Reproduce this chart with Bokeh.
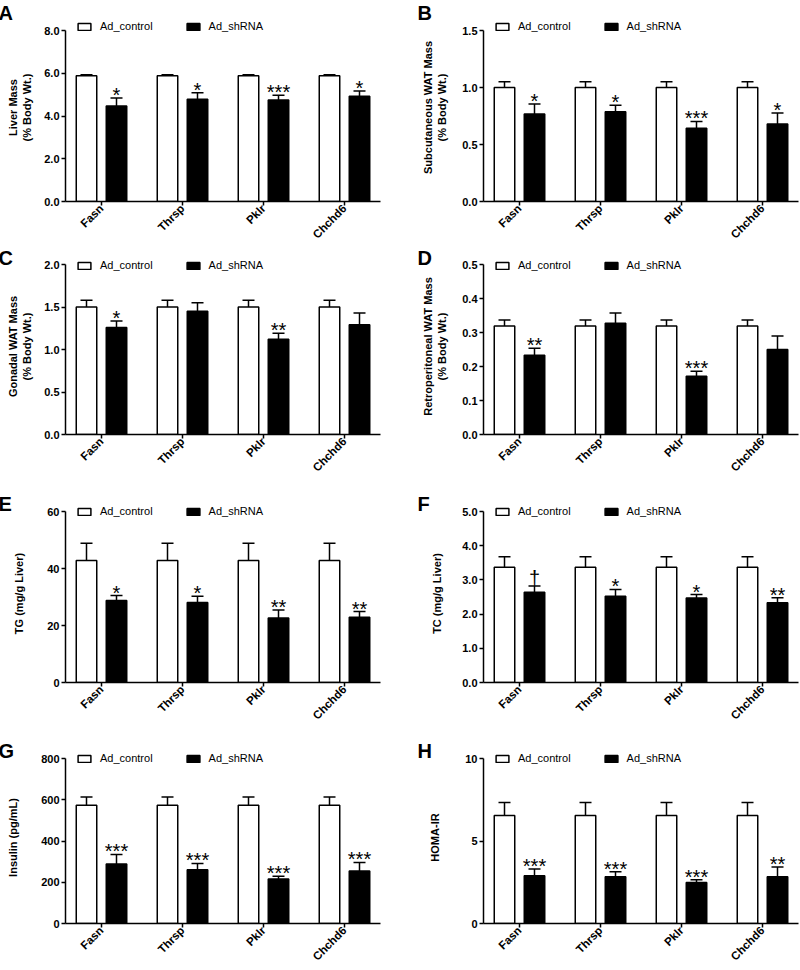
import math
from bokeh.plotting import figure
from bokeh.models import Range1d, FixedTicker, Legend, LegendItem, Title
from bokeh.layouts import gridplot
from bokeh.embed import file_html
from bokeh.resources import INLINE
from bokeh.core.properties import value

# ---------------- data ----------------
genes = ["Fasn", "Thrsp", "Pklr", "Chchd6"]
groups = ["Ad_control", "Ad_shRNA"]

# A: Liver mass (% body wt.)
liver_ctrl = [5.88, 5.88, 5.88, 5.88]
liver_ctrl_err = [0.05, 0.05, 0.05, 0.05]
liver_sh = [4.47, 4.78, 4.75, 4.92]
liver_sh_err = [0.37, 0.31, 0.22, 0.25]
liver_sig = ["*", "*", "***", "*"]
liver_ticks = [0, 2, 4, 6, 8]
liver_tick_labels = ["0.0", "2.0", "4.0", "6.0", "8.0"]

# B: Subcutaneous WAT mass
scwat_ctrl = [1.0, 1.0, 1.0, 1.0]
scwat_ctrl_err = [0.05, 0.05, 0.05, 0.05]
scwat_sh = [0.767, 0.788, 0.643, 0.679]
scwat_sh_err = [0.089, 0.056, 0.059, 0.097]
scwat_sig = ["*", "*", "***", "*"]
scwat_ticks = [0, 0.5, 1.0, 1.5]
scwat_tick_labels = ["0.0", "0.5", "1.0", "1.5"]

# C: Gonadal WAT mass
gwat_ctrl = [1.5, 1.5, 1.5, 1.5]
gwat_ctrl_err = [0.08, 0.08, 0.08, 0.08]
gwat_sh = [1.26, 1.45, 1.12, 1.29]
gwat_sh_err = [0.075, 0.1, 0.07, 0.14]
gwat_sig = ["*", "", "**", ""]
gwat_ticks = [0, 0.5, 1.0, 1.5, 2.0]
gwat_tick_labels = ["0.0", "0.5", "1.0", "1.5", "2.0"]

# D: Retroperitoneal WAT mass
rwat_ctrl = [0.319, 0.319, 0.319, 0.319]
rwat_ctrl_err = [0.018, 0.018, 0.018, 0.018]
rwat_sh = [0.233, 0.327, 0.171, 0.25]
rwat_sh_err = [0.021, 0.03, 0.015, 0.04]
rwat_sig = ["**", "", "***", ""]
rwat_ticks = [0, 0.1, 0.2, 0.3, 0.4, 0.5]
rwat_tick_labels = ["0.0", "0.1", "0.2", "0.3", "0.4", "0.5"]

# E: liver TG
tg_ctrl = [42.8, 42.8, 42.8, 42.8]
tg_ctrl_err = [6.1, 6.1, 6.1, 6.1]
tg_sh = [28.8, 28.1, 22.6, 22.9]
tg_sh_err = [1.7, 2.2, 2.8, 2.0]
tg_sig = ["*", "*", "**", "**"]
tg_ticks = [0, 20, 40, 60]
tg_tick_labels = ["0", "20", "40", "60"]

# F: liver TC
tc_ctrl = [3.37, 3.37, 3.37, 3.37]
tc_ctrl_err = [0.31, 0.31, 0.31, 0.31]
tc_sh = [2.64, 2.52, 2.47, 2.33]
tc_sh_err = [0.18, 0.2, 0.1, 0.15]
tc_sig = ["\u2020", "*", "*", "**"]
tc_ticks = [0, 1, 2, 3, 4, 5]
tc_tick_labels = ["0.0", "1.0", "2.0", "3.0", "4.0", "5.0"]

# G: insulin
ins_ctrl = [573, 573, 573, 573]
ins_ctrl_err = [40, 40, 40, 40]
ins_sh = [288, 261, 216, 254]
ins_sh_err = [47, 30, 13, 42]
ins_sig = ["***", "***", "***", "***"]
ins_ticks = [0, 200, 400, 600, 800]
ins_tick_labels = ["0", "200", "400", "600", "800"]

# H: HOMA-IR
homa_ctrl = [6.54, 6.54, 6.54, 6.54]
homa_ctrl_err = [0.79, 0.79, 0.79, 0.79]
homa_sh = [2.9, 2.84, 2.49, 2.84]
homa_sh_err = [0.41, 0.29, 0.16, 0.58]
homa_sig = ["***", "***", "***", "**"]
homa_ticks = [0, 5, 10]
homa_tick_labels = ["0", "5", "10"]

# ---------------- layout / style (pixels) ----------------
FONT = "Liberation Sans"
PX_PER_CAT = 81.0
COLS = [dict(width=400, left=65, right=20, title_offset=-67),
        dict(width=400, left=83, right=2, title_offset=-66)]
# fig start, frame top, frame bottom, y-axis top, legend box top
ROWS = [(0, 13, 201, 30, 19),
        (248, 258, 434, 264, 258),
        (481, 504, 682, 511, 504),
        (729, 751, 923, 758, 751)]
BOTTOM = 47


def panel(letter, ylabel, ctrl, ctrl_err, sh, sh_err, sig, ticks, tick_labels,
          col, row, label_standoff):
    c = COLS[col]
    fig_start, f_top, f_bot, a_top, leg_top = ROWS[row]
    fw = c["width"] - c["left"] - c["right"]
    fh = f_bot - f_top
    top_border = f_top - fig_start
    ymax = ticks[-1]
    y_per_px = ymax / (f_bot - a_top)
    x0 = -36.0 / PX_PER_CAT
    x1 = x0 + fw / PX_PER_CAT
    p = figure(width=c["width"], height=top_border + fh + BOTTOM,
               min_border_left=c["left"], min_border_right=c["right"],
               min_border_top=top_border, min_border_bottom=BOTTOM,
               x_range=Range1d(x0, x1), y_range=Range1d(0, fh * y_per_px),
               output_backend="svg", toolbar_location=None)
    p.outline_line_color = None
    p.xgrid.visible = False
    p.ygrid.visible = False

    # panel letter as a (near zero-height) title
    p.title = Title(text=letter, align="left", vertical_align="middle",
                    offset=c["title_offset"], standoff=-22,
                    text_font=FONT, text_font_size="20px", text_font_style="bold",
                    text_color="black")

    off = 15.0 / PX_PER_CAT
    bw = 20.5 / PX_PER_CAT
    cap = 6.0 / PX_PER_CAT
    idx = list(range(len(genes)))
    xc = [i - off for i in idx]
    xs = [i + off for i in idx]
    ctop = [v + e for v, e in zip(ctrl, ctrl_err)]
    stop = [v + e for v, e in zip(sh, sh_err)]

    for xx, v, t in ((xc, ctrl, ctop), (xs, sh, stop)):
        p.segment(x0=xx, y0=v, x1=xx, y1=t, line_color="black", line_width=1.5)
        p.segment(x0=[x - cap for x in xx], y0=t, x1=[x + cap for x in xx], y1=t,
                  line_color="black", line_width=1.5)

    r_c = p.vbar(x=xc, top=ctrl, bottom=0, width=bw, fill_color="white",
                 line_color="black", line_width=1.5)
    r_s = p.vbar(x=xs, top=sh, bottom=0, width=bw, fill_color="black",
                 line_color="black", line_width=1.5)

    yoff = [-8 if s == "\u2020" else -3 for s in sig]
    p.text(x=xs, y=stop, text=sig, y_offset=yoff, text_font=value(FONT),
           text_font_size="20px", text_align="center", text_baseline="alphabetic",
           text_color="black")

    # axes
    for ax in (p.xaxis[0], p.yaxis[0]):
        ax.axis_line_width = 1.5
        ax.axis_line_color = "black"
        ax.major_tick_line_width = 1.5
        ax.major_tick_out = 4
        ax.major_tick_in = 0
        ax.minor_tick_out = 0
        ax.minor_tick_in = 0
        ax.major_label_text_font = FONT
        ax.major_label_text_font_style = "bold"
        ax.major_label_text_color = "black"
    p.xaxis.major_label_text_font_size = "11.5px"
    p.yaxis.major_label_text_font_size = "11px"
    p.xaxis.ticker = FixedTicker(ticks=idx)
    p.xaxis.major_label_overrides = {i: g for i, g in zip(idx, genes)}
    p.xaxis.major_label_orientation = math.pi / 4
    p.xaxis.major_label_standoff = 1
    p.yaxis.ticker = FixedTicker(ticks=ticks)
    p.yaxis.bounds = (0, ymax)
    p.yaxis.major_label_overrides = {t: s for t, s in zip(ticks, tick_labels)}
    p.yaxis.major_label_standoff = 2
    p.yaxis.axis_label = ylabel
    p.yaxis.axis_label_text_font = FONT
    p.yaxis.axis_label_text_font_style = "bold"
    p.yaxis.axis_label_text_font_size = "11px"
    p.yaxis.axis_label_text_color = "black"
    p.yaxis.axis_label_standoff = label_standoff

    # legend inside the (extended) frame
    legend = Legend(items=[LegendItem(label=groups[0], renderers=[r_c]),
                           LegendItem(label=groups[1], renderers=[r_s])],
                    orientation="horizontal",
                    location=(11, f_bot - leg_top - 13),
                    glyph_width=16, glyph_height=9, label_height=9,
                    label_standoff=8, spacing=32, padding=0, margin=0,
                    border_line_color=None, background_fill_alpha=0,
                    label_text_font=FONT, label_text_font_size="11px",
                    label_text_color="black")
    p.add_layout(legend)
    return p


pa = panel("A", "Liver Mass\n(% Body Wt.)", liver_ctrl, liver_ctrl_err, liver_sh,
           liver_sh_err, liver_sig, liver_ticks, liver_tick_labels, 0, 0, 8)
pb = panel("B", "Subcutaneous WAT Mass\n(% Body Wt.)", scwat_ctrl, scwat_ctrl_err,
           scwat_sh, scwat_sh_err, scwat_sig, scwat_ticks, scwat_tick_labels, 1, 0, 11)
pc = panel("C", "Gonadal WAT Mass\n(% Body Wt.)", gwat_ctrl, gwat_ctrl_err, gwat_sh,
           gwat_sh_err, gwat_sig, gwat_ticks, gwat_tick_labels, 0, 1, 8)
pd = panel("D", "Retroperitoneal WAT Mass\n(% Body Wt.)", rwat_ctrl, rwat_ctrl_err,
           rwat_sh, rwat_sh_err, rwat_sig, rwat_ticks, rwat_tick_labels, 1, 1, 11)
pe = panel("E", "TG (mg/g Liver)", tg_ctrl, tg_ctrl_err, tg_sh, tg_sh_err, tg_sig,
           tg_ticks, tg_tick_labels, 0, 2, 19)
pf = panel("F", "TC (mg/g Liver)", tc_ctrl, tc_ctrl_err, tc_sh, tc_sh_err, tc_sig,
           tc_ticks, tc_tick_labels, 1, 2, 16)
pg = panel("G", "Insulin (pg/mL)", ins_ctrl, ins_ctrl_err, ins_sh, ins_sh_err, ins_sig,
           ins_ticks, ins_tick_labels, 0, 3, 19)
ph = panel("H", "HOMA-IR", homa_ctrl, homa_ctrl_err, homa_sh, homa_sh_err, homa_sig,
           homa_ticks, homa_tick_labels, 1, 3, 21)

grid = gridplot([[pa, pb], [pc, pd], [pe, pf], [pg, ph]], toolbar_location=None)

with open("out.html", "w") as f:
    f.write(file_html(grid, INLINE))
